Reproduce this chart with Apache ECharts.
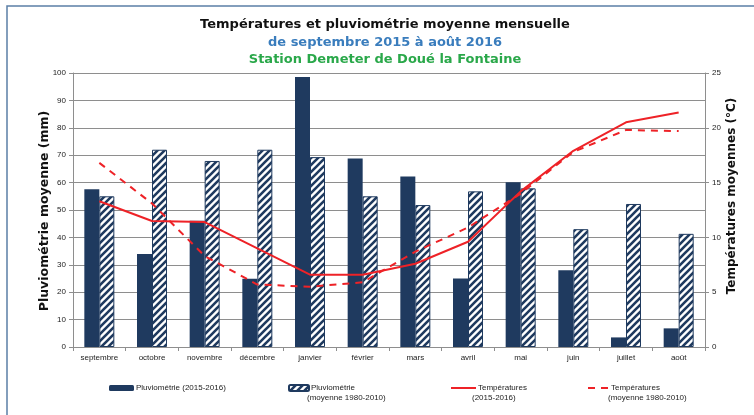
<!DOCTYPE html>
<html>
<head>
<meta charset="utf-8">
<script src="https://cdn.jsdelivr.net/npm/echarts@6/dist/echarts.min.js"></script>
<style>
  html, body { margin: 0; padding: 0; background: #fff; }
  #chart { width: 754px; height: 415px; }
</style>
</head>
<body>
<div id="chart"></div>
<script>
const months = ['septembre', 'octobre', 'novembre', 'décembre', 'janvier', 'février',
  'mars', 'avril', 'mai', 'juin', 'juillet', 'août']

// pluviométrie (mm)
const rain2016 = [57.6, 33.9, 46.1, 24.9, 98.5, 68.8, 62.2, 25.0, 60.1, 28.0, 3.5, 6.8]
const rainNormal = [55.0, 72.0, 67.9, 72.0, 69.3, 55.0, 51.8, 56.8, 57.9, 43.0, 52.2, 41.3]

// températures (°C)
const temp2016 = [13.3, 11.5, 11.4, 9.0, 6.6, 6.6, 7.6, 9.6, 14.2, 17.9, 20.5, 21.4]
const tempNormal = [16.8, 13.1, 8.3, 5.7, 5.5, 5.9, 8.7, 10.9, 14.0, 17.8, 19.8, 19.7]

const rainTicks = [0, 10, 20, 30, 40, 50, 60, 70, 80, 90, 100]
const tempTicks = [0, 5, 10, 15, 20, 25]

const NAVY = '#1f3a5f'
const RED = '#ee2227'
const GRID_GREY = '#8e8e8e'
const FONT = 'DejaVu Sans'
const SMALL = 'Liberation Sans'

function makeHatch() {
  const c = document.createElement('canvas')
  const s = 7
  c.width = s
  c.height = s
  const ctx = c.getContext('2d')
  ctx.fillStyle = '#ffffff'
  ctx.fillRect(0, 0, s, s)
  ctx.strokeStyle = NAVY
  ctx.lineWidth = 2.6
  ctx.beginPath()
  ctx.moveTo(-1, s + 1); ctx.lineTo(s + 1, -1)
  ctx.moveTo(-2, 2); ctx.lineTo(2, -2)
  ctx.moveTo(s - 2, s + 2); ctx.lineTo(s + 2, s - 2)
  ctx.stroke()
  return c
}

const chart = echarts.init(document.getElementById('chart'))
const hatch = { image: makeHatch(), repeat: 'repeat' }

const legendBase = {
  orient: 'horizontal',
  itemWidth: 25,
  itemHeight: 6,
  itemGap: 2,
  textStyle: { fontFamily: SMALL, fontSize: 8, color: '#222', padding: [0, 0, 0, -3] },
  selectedMode: false,
}

chart.setOption({
  animation: false,
  backgroundColor: '#fff',
  title: [
    {
      text: 'Températures et pluviométrie moyenne mensuelle',
      left: 380, top: 13, textAlign: 'center',
      textStyle: { fontFamily: FONT, fontSize: 13, fontWeight: 'bold', color: '#111' },
    },
    {
      text: 'de septembre 2015 à août 2016',
      left: 380, top: 31, textAlign: 'center',
      textStyle: { fontFamily: FONT, fontSize: 13, fontWeight: 'bold', color: '#3a7dbd' },
    },
    {
      text: 'Station Demeter de Doué la Fontaine',
      left: 380, top: 48, textAlign: 'center',
      textStyle: { fontFamily: FONT, fontSize: 13, fontWeight: 'bold', color: '#2aa84a' },
    },
  ],
  grid: { left: 73, right: 49, top: 73, bottom: 68 },
  legend: [
    Object.assign({}, legendBase, { data: ['Pluviométrie (2015-2016)'], left: 104, top: 379 }),
    Object.assign({}, legendBase, { data: ['Pluviométrie'], left: 283, top: 379, itemWidth: 20 }),
    Object.assign({}, legendBase, {
      data: [{ name: 'Températures', itemStyle: { opacity: 0 } }], left: 445, top: 379,
    }),
    Object.assign({}, legendBase, {
      data: [{ name: 'Températures ', itemStyle: { opacity: 0 } }], left: 582, top: 379, itemWidth: 21,
    }),
  ],
  xAxis: {
    type: 'category',
    data: months,
    boundaryGap: true,
    axisLine: { lineStyle: { color: GRID_GREY } },
    axisTick: { show: true, length: 4, alignWithLabel: false, lineStyle: { color: GRID_GREY } },
    axisLabel: { fontFamily: SMALL, fontSize: 8, color: '#222', margin: 7, interval: 0 },
  },
  yAxis: [
    {
      type: 'value',
      min: rainTicks[0],
      max: rainTicks[rainTicks.length - 1],
      interval: rainTicks[1] - rainTicks[0],
      position: 'left',
      axisLine: { show: true, lineStyle: { color: GRID_GREY } },
      axisTick: { show: true, length: 4, lineStyle: { color: GRID_GREY } },
      axisLabel: { fontFamily: SMALL, fontSize: 8, color: '#222', margin: 7 },
      splitLine: { lineStyle: { color: GRID_GREY, width: 1 } },
    },
    {
      type: 'value',
      min: tempTicks[0],
      max: tempTicks[tempTicks.length - 1],
      interval: tempTicks[1] - tempTicks[0],
      position: 'right',
      axisLine: { show: true, lineStyle: { color: GRID_GREY } },
      axisTick: { show: true, length: 4, lineStyle: { color: GRID_GREY } },
      axisLabel: { fontFamily: SMALL, fontSize: 8, color: '#222', margin: 7 },
      splitLine: { show: false },
    },
  ],
  series: [
    {
      name: 'Pluviométrie (2015-2016)',
      type: 'bar',
      data: rain2016,
      barWidth: 15,
      barGap: '0%',
      itemStyle: { color: NAVY },
    },
    {
      name: 'Pluviométrie',
      type: 'bar',
      data: rainNormal,
      barWidth: 15,
      barGap: '0%',
      itemStyle: { color: hatch, borderColor: NAVY, borderWidth: 1 },
    },
    {
      name: 'Températures',
      type: 'line',
      yAxisIndex: 1,
      data: temp2016,
      symbol: 'none',
      lineStyle: { color: RED, width: 2 },
      itemStyle: { color: RED },
      z: 5,
    },
    {
      name: 'Températures ',
      type: 'line',
      yAxisIndex: 1,
      data: tempNormal,
      symbol: 'none',
      lineStyle: { color: RED, width: 2, type: [7, 6] },
      itemStyle: { color: RED },
      z: 5,
    },
  ],
  graphic: [
    {
      type: 'rect',
      shape: { x: 7, y: 6, width: 800, height: 500 },
      style: { fill: 'none', stroke: '#5b7fa6', lineWidth: 1.5 },
      silent: true,
    },
    {
      type: 'text',
      x: 45, y: 211, rotation: Math.PI / 2,
      style: {
        text: 'Pluviométrie moyenne (mm)',
        font: 'bold 12.5px "DejaVu Sans"', fill: '#111',
        align: 'center', verticalAlign: 'middle',
      },
    },
    {
      type: 'text',
      x: 732, y: 196, rotation: Math.PI / 2,
      style: {
        text: 'Températures moyennes (°C)',
        font: 'bold 12px "DejaVu Sans"', fill: '#111',
        align: 'center', verticalAlign: 'middle',
      },
    },
    {
      type: 'text', x: 307, y: 394,
      style: { text: '(moyenne 1980-2010)', font: '8px "Liberation Sans"', fill: '#222' },
    },
    {
      type: 'text', x: 472, y: 394,
      style: { text: '(2015-2016)', font: '8px "Liberation Sans"', fill: '#222' },
    },
    {
      type: 'text', x: 608, y: 394,
      style: { text: '(moyenne 1980-2010)', font: '8px "Liberation Sans"', fill: '#222' },
    },
  ],
})

window.addEventListener('resize', () => {
  chart.resize()
})
</script>
</body>
</html>
